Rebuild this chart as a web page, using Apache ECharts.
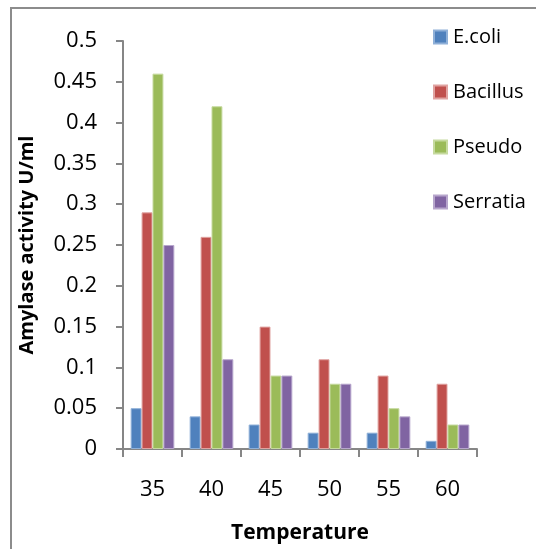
<!DOCTYPE html>
<html>
<head>
<meta charset="utf-8">
<script src="https://cdn.jsdelivr.net/npm/echarts@6/dist/echarts.min.js"></script>
<style>
  html, body { margin: 0; padding: 0; background: #fff; }
  #chart { width: 536px; height: 549px; }
</style>
</head>
<body>
<div id="chart"></div>
<script>
// Amylase activity (U/ml) by incubation temperature for four isolates
const temperatures = ['35', '40', '45', '50', '55', '60'];
const ecoli    = [0.05, 0.04, 0.03, 0.02, 0.02, 0.01];
const bacillus = [0.29, 0.26, 0.15, 0.11, 0.09, 0.08];
const pseudo   = [0.46, 0.42, 0.09, 0.08, 0.05, 0.03];
const serratia = [0.25, 0.11, 0.09, 0.08, 0.04, 0.03];
const yTicks = [0, 0.05, 0.1, 0.15, 0.2, 0.25, 0.3, 0.35, 0.4, 0.45, 0.5];

const fontFamily = '"Open Sans", "Liberation Sans", sans-serif';
const axisGray = '#868686';

function bar(name, data, color, edge) {
  return {
    name: name,
    type: 'bar',
    data: data,
    barGap: '0%',
    barCategoryGap: '26%',
    itemStyle: { color: color, borderColor: edge, borderWidth: 1 }
  };
}

const chart = echarts.init(document.getElementById('chart'), null, { renderer: 'canvas' });
chart.setOption({
  animation: false,
  backgroundColor: '#fff',
  graphic: [{
    type: 'rect',
    shape: { x: 11, y: 8, width: 620, height: 620 },
    style: { fill: 'none', stroke: '#8c8c8c', lineWidth: 2 },
    silent: true
  }],
  grid: { left: 123, right: 59, top: 41, bottom: 98, containLabel: false },
  legend: {
    orient: 'vertical',
    left: 433,
    top: 27,
    padding: 0,
    itemWidth: 13,
    itemHeight: 13,
    itemGap: 35,
    icon: 'rect',
    textStyle: { fontFamily: fontFamily, fontSize: 20, color: '#000', padding: [0, 0, 0, 1] },
    data: ['E.coli', 'Bacillus', 'Pseudo', 'Serratia']
  },
  xAxis: {
    type: 'category',
    data: temperatures,
    name: 'Temperature',
    nameLocation: 'middle',
    nameGap: 74,
    nameTextStyle: { fontFamily: fontFamily, fontSize: 21, fontWeight: 'bold', color: '#000' },
    axisLine: { lineStyle: { color: axisGray, width: 2 } },
    axisTick: { show: true, length: 8, lineStyle: { color: axisGray, width: 2 } },
    axisLabel: { fontFamily: fontFamily, fontSize: 22, color: '#000', margin: 30 }
  },
  yAxis: {
    type: 'value',
    min: yTicks[0],
    max: yTicks[yTicks.length - 1],
    interval: 0.05,
    name: 'Amylase activity U/ml',
    nameLocation: 'middle',
    nameGap: 86,
    nameTextStyle: { fontFamily: fontFamily, fontSize: 20, fontWeight: 'bold', color: '#000' },
    splitLine: { show: false },
    axisLine: { show: true, lineStyle: { color: axisGray, width: 2 } },
    axisTick: { show: true, length: 7, lineStyle: { color: axisGray, width: 2 } },
    axisLabel: {
      fontFamily: fontFamily, fontSize: 22, color: '#000', margin: 26,
      formatter: function (v) { return String(Math.round(v * 100) / 100); }
    }
  },
  series: [
    bar('E.coli', ecoli, '#4F81BD', '#8fb0d8'),
    bar('Bacillus', bacillus, '#C0504D', '#e0a3a1'),
    bar('Pseudo', pseudo, '#9BBB59', '#c6da9f'),
    bar('Serratia', serratia, '#8064A2', '#b7a6cc')
  ]
});
</script>
</body>
</html>
